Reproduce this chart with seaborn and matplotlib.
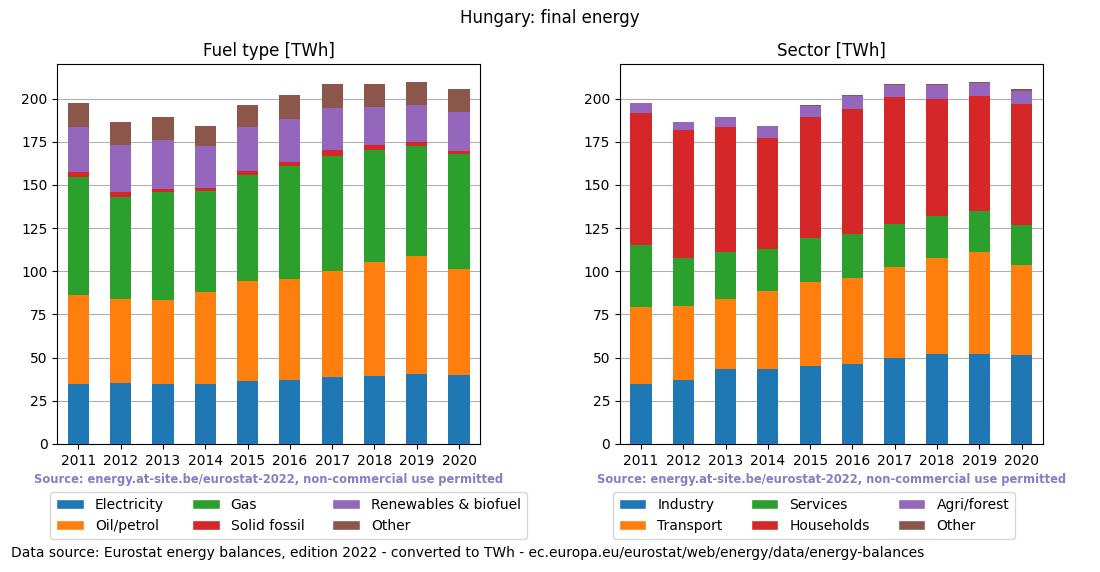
import numpy as np
import pandas as pd
import matplotlib
matplotlib.use("Agg")
import matplotlib.pyplot as plt
import seaborn as sns
from matplotlib.patches import Patch

# ================================
# Data (TWh)
# ================================
years = ["2011", "2012", "2013", "2014", "2015", "2016", "2017", "2018", "2019", "2020"]

fuel_names = ["Electricity", "Oil/petrol", "Gas", "Solid fossil", "Renewables & biofuel", "Other"]
electricity = [34.7, 35.3, 34.7, 34.7, 36.5, 37.0, 38.8, 39.4, 40.5, 39.9]
oil_petrol = [51.5, 48.6, 48.6, 53.3, 57.8, 58.5, 61.3, 65.9, 68.3, 61.4]
gas = [68.3, 59.0, 62.5, 58.4, 61.4, 65.4, 66.6, 64.8, 63.7, 66.5]
solid_fossil = [2.9, 2.9, 1.8, 1.7, 2.3, 2.3, 3.4, 2.9, 2.3, 1.8]
renewables = [26.0, 27.2, 28.3, 24.4, 25.4, 24.9, 24.3, 22.0, 21.4, 22.5]
fuel_other = [13.9, 13.3, 13.3, 11.5, 12.8, 13.9, 13.9, 13.3, 13.3, 13.3]

sector_names = ["Industry", "Transport", "Services", "Households", "Agri/forest", "Other"]
industry = [34.7, 37.0, 43.4, 43.4, 45.1, 46.3, 49.8, 52.1, 52.1, 51.5]
transport = [44.6, 42.9, 40.5, 45.1, 48.7, 49.8, 52.6, 55.5, 59.0, 52.1]
services = [35.9, 27.7, 27.2, 24.3, 25.4, 25.4, 24.9, 24.3, 23.7, 23.1]
households = [76.3, 74.1, 72.3, 64.3, 70.0, 72.4, 73.5, 67.9, 66.8, 70.3]
agri_forest = [5.8, 4.6, 5.8, 6.9, 6.4, 7.7, 7.0, 8.0, 7.3, 7.3]
sector_other = [0.2, 0.2, 0.2, 0.2, 0.6, 0.6, 0.5, 0.5, 0.6, 1.1]

fuel_df = pd.DataFrame(
    dict(zip(fuel_names, [electricity, oil_petrol, gas, solid_fossil, renewables, fuel_other])),
    index=years,
)
sector_df = pd.DataFrame(
    dict(zip(sector_names, [industry, transport, services, households, agri_forest, sector_other])),
    index=years,
)

colors = sns.color_palette("tab10", 6)
source_txt = "Source: energy.at-site.be/eurostat-2022, non-commercial use permitted"

# ================================
# Plot
# ================================
sns.set_style("white")
plt.rcParams["font.family"] = ["DejaVu Sans"]
plt.rcParams.update({"text.color": "black", "axes.labelcolor": "black",
                     "xtick.color": "black", "ytick.color": "black"})

fig, axes = plt.subplots(1, 2, figsize=(11, 5.72), dpi=100)
fig.subplots_adjust(left=0.052, right=0.948, top=0.888, bottom=0.224, wspace=0.33)


def stacked(ax, df, title):
    # draw cumulative totals from the top layer down, so each layer covers the ones above
    cum = df.cumsum(axis=1)
    for i in reversed(range(df.shape[1])):
        sns.barplot(x=df.index, y=cum.iloc[:, i].values, color=colors[i],
                    width=0.5, saturation=1, ax=ax, zorder=3,
                    edgecolor="none", linewidth=0)
    ax.set_ylim(0, 220)
    ax.set_xlim(-0.5, len(df) - 0.5)
    ax.yaxis.grid(True, color="#b0b0b0", linewidth=0.8, zorder=0)
    ax.set_axisbelow(True)
    ax.set_title(title, fontsize=12, color="black")
    ax.set_xlabel("")
    ax.set_ylabel("")
    ax.tick_params(axis="both", labelsize=10, length=3.5, left=True, bottom=True, colors="black")
    for s in ax.spines.values():
        s.set_color("black")
        s.set_linewidth(0.8)
    ax.text(0.5, -0.093, source_txt, transform=ax.transAxes, ha="center", va="center",
            fontsize=8.3, fontweight="bold", color="#7f7fcc")
    handles = [Patch(facecolor=colors[i], label=name) for i, name in enumerate(df.columns)]
    ax.legend(handles=handles, loc="upper left", bbox_to_anchor=(-0.016, -0.128),
              ncol=3, fontsize=10, frameon=True, borderaxespad=0)


stacked(axes[0], fuel_df, "Fuel type [TWh]")
stacked(axes[1], sector_df, "Sector [TWh]")

fig.suptitle("Hungary: final energy", fontsize=12, y=0.985, color="black")
fig.text(0.01, 0.033, "Data source: Eurostat energy balances, edition 2022 - converted to TWh - "
         "ec.europa.eu/eurostat/web/energy/data/energy-balances", fontsize=10, va="center",
         color="black")

plt.savefig("out.png", dpi=100)
